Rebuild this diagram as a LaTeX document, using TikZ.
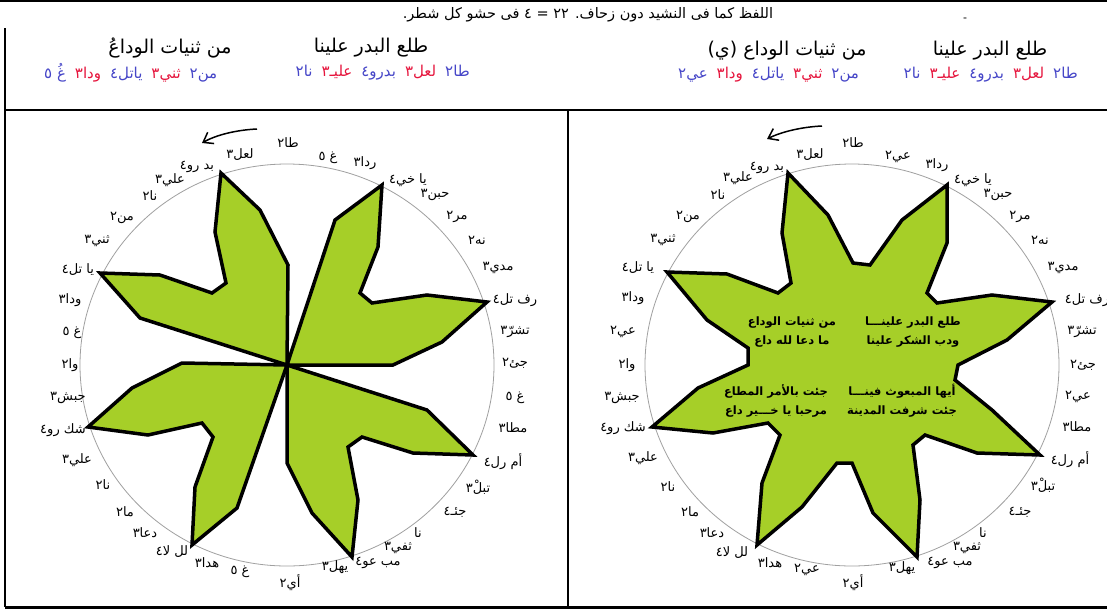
\documentclass[tikz,border=0pt]{standalone}
\usepackage{fontspec}
\newfontfamily\ar[Script=Arabic]{DejaVu Sans}
\TeXXeTstate=1
\usetikzlibrary{arrows.meta}
\definecolor{starfill}{RGB}{166,207,40}
\definecolor{sylblue}{RGB}{70,70,200}
\definecolor{sylred}{RGB}{230,20,60}
\definecolor{ringgray}{RGB}{160,160,160}
\newcommand{\sylgap}{\hspace{9pt}}
\begin{document}
\begin{tikzpicture}[x=1pt,y=-1pt,
  lbl/.style={font=\ar\fontsize{13}{15}\selectfont, inner sep=0pt},
  title/.style={font=\ar\fontsize{19}{21}\selectfont, inner sep=0pt},
  syl/.style={font=\ar\fontsize{15}{17}\selectfont, inner sep=0pt},
  verse/.style={font=\ar\bfseries\fontsize{11.5}{19}\selectfont, inner sep=0pt, align=center},
  frame/.style={line width=2pt},
  ring/.style={ringgray, line width=0.8pt},
  arm/.style={fill=starfill, draw=black, line width=3.5pt, line join=miter},
  turn/.style={line width=1.5pt, -{Straight Barb[length=9pt,width=13pt]}}]
\useasboundingbox (0,0) rectangle (1107,611);
\fill[white] (0,0) rectangle (1107,611);

% frame
\draw[frame] (0,1) -- (1107,1);
\draw[frame] (5,28) -- (5,607);
\draw[frame] (5,110) -- (1107,110);
\draw[frame] (568,110) -- (568,607);
\draw[line width=3pt] (5,607) -- (1107,607);

% top sentence
\node[font=\ar\fontsize{14.5}{16}\selectfont, inner sep=0pt] (topline) at (588,15)
  {\beginR اللفظ كما فى النشيد دون زحاف\kern0pt. ٢٢ = ٤ فى حشو كل شطر\kern0pt.\endR};
\node[inner sep=0pt, font=\ar\fontsize{11}{13}\selectfont] (dash) at (965,20) {-};

% left header
\node[title] (lt1) at (371,48) {\beginR طلع البدر علينا\endR};
\node[title] (lt2) at (170,48) {\beginR من ثنيات الوداعُ\endR};
\node[syl, anchor=east] (ls1) at (470,73) {\textcolor{sylblue}{نا٢}\sylgap\textcolor{sylred}{عليـ٣}\sylgap\textcolor{sylblue}{بدرو٤}\sylgap\textcolor{sylred}{لعل٣}\sylgap\textcolor{sylblue}{طا٢}};
\node[syl, anchor=west] (ls2) at (44,73) {\textcolor{sylblue}{\beginR غُ ٥\endR}\sylgap\textcolor{sylred}{ودا٣}\sylgap\textcolor{sylblue}{ياتل٤}\sylgap\textcolor{sylred}{ثني٣}\sylgap\textcolor{sylblue}{من٢}};

% right header
\node[title] (rt1) at (990,51) {\beginR طلع البدر علينا\endR};
\node[title] (rt2) at (787,51) {\beginR من ثنيات الوداع (\kern0ptي\kern0pt)\endR};
\node[syl, anchor=east] (rs1) at (1078,75) {\textcolor{sylblue}{نا٢}\sylgap\textcolor{sylred}{عليـ٣}\sylgap\textcolor{sylblue}{بدرو٤}\sylgap\textcolor{sylred}{لعل٣}\sylgap\textcolor{sylblue}{طا٢}};
\node[syl, anchor=west] (rs2) at (678,75) {\textcolor{sylblue}{عي٢}\sylgap\textcolor{sylred}{ودا٣}\sylgap\textcolor{sylblue}{ياتل٤}\sylgap\textcolor{sylred}{ثني٣}\sylgap\textcolor{sylblue}{من٢}};

% rings
\draw[ring] (287,365) ellipse [x radius=207, y radius=201];
\draw[ring] (852,365) ellipse [x radius=207, y radius=201];

% left pinwheel
\draw[arm] (287,365) -- (288,265) -- (260,210) -- (221,173) -- (215,232) -- (226,283) -- (212,293) -- (160,275) -- (100,273) -- (140,318) -- cycle;
\draw[arm] (287,365) -- (393,365) -- (442,342) -- (487,302) -- (427,295) -- (372,303) -- (360,293) -- (378,247) -- (382,185) -- (335,220) -- cycle;
\draw[arm] (287,365) -- (287,463) -- (312,513) -- (352,557) -- (358,500) -- (348,447) -- (362,437) -- (413,453) -- (473,455) -- (427,410) -- cycle;
\draw[arm] (287,365) -- (182,363) -- (132,388) -- (88,427) -- (148,435) -- (202,423) -- (213,437) -- (195,487) -- (192,545) -- (237,508) -- cycle;

% right star
\draw[arm] (788,173) -- (828,215) -- (853,263) -- (870,265) -- (902,220) -- (947,185) -- (947,243) -- (927,293) -- (937,303) -- (992,295) -- (1052,302) -- (1007,340) -- (958,365) -- (955,380) -- (992,410) -- (1040,455) -- (977,453) -- (925,435) -- (913,445) -- (920,500) -- (917,557) -- (873,513) -- (852,463) -- (837,463) -- (802,507) -- (757,545) -- (762,483) -- (780,435) -- (768,423) -- (713,433) -- (652,427) -- (698,388) -- (748,365) -- (748,348) -- (707,320) -- (667,272) -- (727,274) -- (778,293) -- (791,283) -- (782,233) -- cycle;

% verses
\node[verse] (v1) at (913,332) {\beginR طلع البدر علينـــا\endR\\\beginR ودب الشكر علينا\endR};
\node[verse] (v2) at (792,332) {\beginR من ثنيات الوداع\endR\\\beginR ما دعا لله داع\endR};
\node[verse] (v3) at (902,401) {\beginR أيها المبعوث فينـــا\endR\\\beginR جئت شرفت المدينة\endR};
\node[verse] (v4) at (776,401) {\beginR جئت بالأمر المطاع\endR\\\beginR مرحبا يا خـــير داع\endR};

% arrows
\coordinate (la0) at (257,129); \coordinate (la1) at (202,143);
\draw[turn] (la0) .. controls (236,130) and (216,135) .. (la1);
\coordinate (ra0) at (822,126); \coordinate (ra1) at (767,139);
\draw[turn] (ra0) .. controls (801,127) and (781,132) .. (ra1);

% left labels
\node[lbl] (L1) at (288,143) {\beginR طا٢\endR};
\node[lbl] (L2) at (240,155) {\beginR لعل٣\endR};
\node[lbl] (L3) at (197,167) {\beginR بد رو٤\endR};
\node[lbl] (L4) at (170,180) {\beginR علي٣\endR};
\node[lbl] (L5) at (150,196) {\beginR نا٢\endR};
\node[lbl] (L6) at (122,218) {\beginR من٢\endR};
\node[lbl] (L7) at (97,241) {\beginR ثني٣\endR};
\node[lbl] (L8) at (78,270) {\beginR يا تل٤\endR};
\node[lbl] (L9) at (70,300) {\beginR ودا٣\endR};
\node[lbl] (L10) at (72,333) {\beginR غ ٥\endR};
\node[lbl] (L11) at (70,365) {\beginR وا٢\endR};
\node[lbl] (L12) at (68,398) {\beginR جبش٣\endR};
\node[lbl] (L13) at (63,430) {\beginR شك رو٤\endR};
\node[lbl] (L14) at (77,460) {\beginR علي٣\endR};
\node[lbl] (L15) at (103,485) {\beginR نا٢\endR};
\node[lbl] (L16) at (125,512) {\beginR ما٢\endR};
\node[lbl] (L17) at (145,533) {\beginR دعا٣\endR};
\node[lbl] (L18) at (172,552) {\beginR لل لا٤\endR};
\node[lbl] (L19) at (207,563) {\beginR هدا٣\endR};
\node[lbl] (L20) at (240,572) {\beginR غ ٥\endR};
\node[lbl] (L21) at (290,583) {\beginR أي٢\endR};
\node[lbl] (L22) at (335,567) {\beginR يهل٣\endR};
\node[lbl] (L23) at (378,563) {\beginR مب عو٤\endR};
\node[lbl] (L24) at (398,548) {\beginR ثفي٣\endR};
\node[lbl] (L25) at (418,533) {\beginR نا\endR};
\node[lbl] (L26) at (455,512) {\beginR جئـ٤\endR};
\node[lbl] (L27) at (478,487) {\beginR تبلْ٣\endR};
\node[lbl] (L28) at (503,462) {\beginR أم رل٤\endR};
\node[lbl] (L29) at (513,428) {\beginR مطا٣\endR};
\node[lbl] (L30) at (515,398) {\beginR غ ٥\endR};
\node[lbl] (L31) at (515,363) {\beginR جئ٢\endR};
\node[lbl] (L32) at (515,332) {\beginR تشرّ٣\endR};
\node[lbl] (L33) at (515,300) {\beginR رف تل٤\endR};
\node[lbl] (L34) at (498,268) {\beginR مدي٣\endR};
\node[lbl] (L35) at (477,240) {\beginR نه٢\endR};
\node[lbl] (L36) at (457,217) {\beginR مر٢\endR};
\node[lbl] (L37) at (435,195) {\beginR حبن٣\endR};
\node[lbl] (L38) at (408,180) {\beginR يا خي٤\endR};
\node[lbl] (L39) at (365,163) {\beginR ردا٣\endR};
\node[lbl] (L40) at (328,158) {\beginR غ ٥\endR};

% right labels
\node[lbl] (R1) at (853,143) {\beginR طا٢\endR};
\node[lbl] (R2) at (810,155) {\beginR لعل٣\endR};
\node[lbl] (R3) at (767,168) {\beginR بد رو٤\endR};
\node[lbl] (R4) at (738,178) {\beginR علي٣\endR};
\node[lbl] (R5) at (718,195) {\beginR نا٢\endR};
\node[lbl] (R6) at (688,217) {\beginR من٢\endR};
\node[lbl] (R7) at (663,240) {\beginR ثني٣\endR};
\node[lbl] (R8) at (638,268) {\beginR يا تل٤\endR};
\node[lbl] (R9) at (633,298) {\beginR ودا٣\endR};
\node[lbl] (R10) at (623,332) {\beginR عي٢\endR};
\node[lbl] (R11) at (627,365) {\beginR وا٢\endR};
\node[lbl] (R12) at (622,398) {\beginR جبش٣\endR};
\node[lbl] (R13) at (623,428) {\beginR شك رو٤\endR};
\node[lbl] (R14) at (643,458) {\beginR علي٣\endR};
\node[lbl] (R15) at (668,487) {\beginR نا٢\endR};
\node[lbl] (R16) at (690,512) {\beginR ما٢\endR};
\node[lbl] (R17) at (712,533) {\beginR دعا٣\endR};
\node[lbl] (R18) at (732,553) {\beginR لل لا٤\endR};
\node[lbl] (R19) at (770,563) {\beginR هدا٣\endR};
\node[lbl] (R20) at (807,570) {\beginR عي٢\endR};
\node[lbl] (R21) at (853,583) {\beginR أي٢\endR};
\node[lbl] (R22) at (902,568) {\beginR يهل٣\endR};
\node[lbl] (R23) at (950,563) {\beginR مب عو٤\endR};
\node[lbl] (R24) at (967,548) {\beginR ثفي٣\endR};
\node[lbl] (R25) at (983,533) {\beginR نا\endR};
\node[lbl] (R26) at (1020,512) {\beginR جئـ٤\endR};
\node[lbl] (R27) at (1043,485) {\beginR تبلْ٣\endR};
\node[lbl] (R28) at (1070,460) {\beginR أم رل٤\endR};
\node[lbl] (R29) at (1077,427) {\beginR مطا٣\endR};
\node[lbl] (R30) at (1078,397) {\beginR عي٢\endR};
\node[lbl] (R31) at (1083,365) {\beginR جئ٢\endR};
\node[lbl] (R32) at (1082,332) {\beginR تشرّ٣\endR};
\node[lbl] (R33) at (1087,300) {\beginR رف تل٤\endR};
\node[lbl] (R34) at (1063,268) {\beginR مدي٣\endR};
\node[lbl] (R35) at (1040,240) {\beginR نه٢\endR};
\node[lbl] (R36) at (1020,217) {\beginR مر٢\endR};
\node[lbl] (R37) at (998,195) {\beginR حبن٣\endR};
\node[lbl] (R38) at (973,180) {\beginR يا خي٤\endR};
\node[lbl] (R39) at (937,165) {\beginR ردا٣\endR};
\node[lbl] (R40) at (898,157) {\beginR عي٢\endR};
\end{tikzpicture}
\end{document}
